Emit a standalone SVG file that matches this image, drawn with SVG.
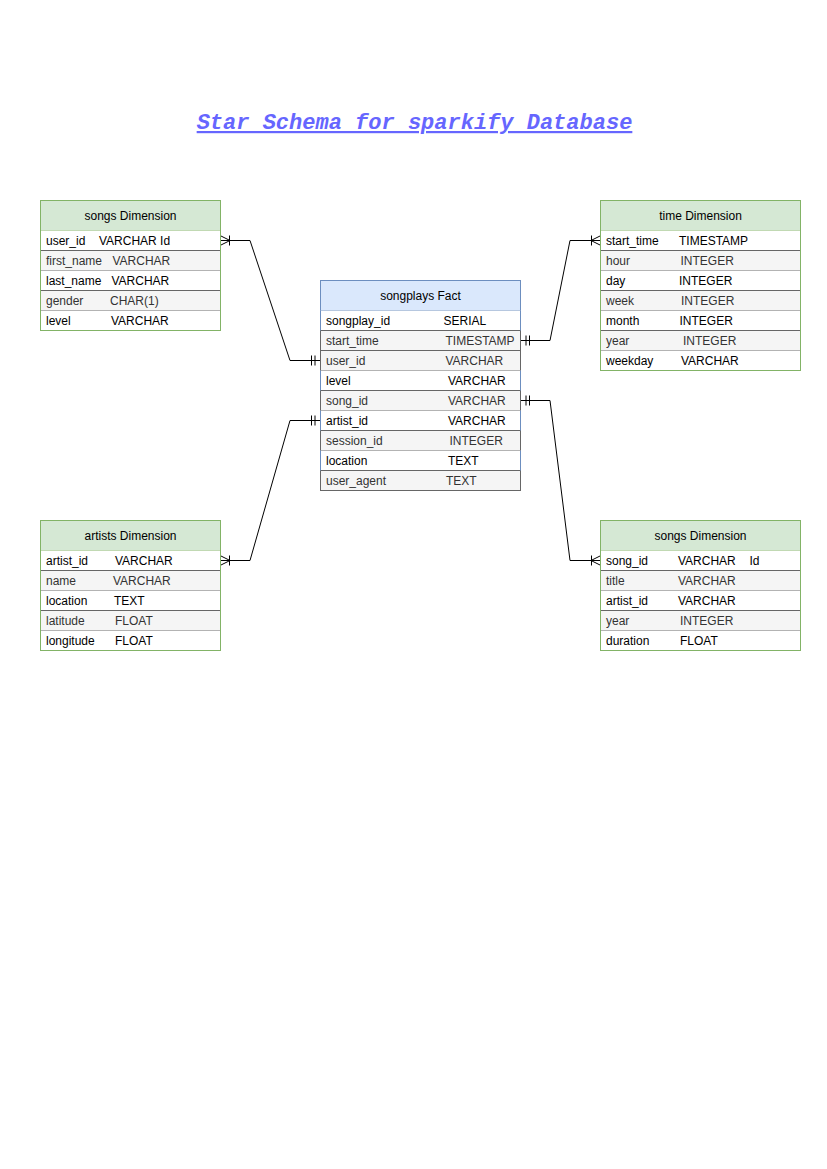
<svg xmlns="http://www.w3.org/2000/svg" width="827" height="1169" viewBox="0 0 827 1169">
<style>
text{font-family:"Liberation Sans",Arial,sans-serif;font-size:12px;fill:#000}
.title{font-family:"Liberation Mono","Courier New",monospace;font-size:22px;font-weight:bold;font-style:italic;fill:#6666FF;text-decoration:underline}
.hd{text-anchor:middle}
.g{fill:#333333}
.dimh{fill:#d5e8d4;stroke:#82b366}
.facth{fill:#dae8fc;stroke:#6c8ebf}
.dimo{fill:none;stroke:#82b366}
.facto{fill:none;stroke:#6c8ebf}
.rw{fill:#ffffff;stroke:none}
.rg{fill:#f5f5f5;stroke:#666666}
.c{fill:none;stroke:#000;stroke-width:1}
</style>
<rect width="827" height="1169" fill="#ffffff"/>
<text class="title" x="414.5" y="129" text-anchor="middle">Star Schema for sparkify Database</text>

<g id="songs-dim-left">
<rect class="dimh" x="40.5" y="200.5" width="180" height="30"/>
<text class="hd" x="130.5" y="220">songs Dimension</text>
<rect class="rw" x="40.5" y="230.5" width="180" height="20"/>
<rect class="rg" x="40.5" y="250.5" width="180" height="20"/>
<rect class="rw" x="40.5" y="270.5" width="180" height="20"/>
<rect class="rg" x="40.5" y="290.5" width="180" height="20"/>
<rect class="rw" x="40.5" y="310.5" width="180" height="20"/>
<rect class="dimo" x="40.5" y="200.5" width="180" height="130"/>
<text x="46" y="245">user_id</text><text x="99" y="245">VARCHAR Id</text>
<text class="g" x="46" y="265">first_name</text><text class="g" x="112.5" y="265">VARCHAR</text>
<text x="46" y="285">last_name</text><text x="111.5" y="285">VARCHAR</text>
<text class="g" x="46" y="305">gender</text><text class="g" x="110" y="305">CHAR(1)</text>
<text x="46" y="325">level</text><text x="111" y="325">VARCHAR</text>
</g>

<g id="songplays-fact">
<rect class="facth" x="320.5" y="280.5" width="200" height="30"/>
<text class="hd" x="420.5" y="300">songplays Fact</text>
<rect class="rw" x="320.5" y="310.5" width="200" height="20"/>
<rect class="rg" x="320.5" y="330.5" width="200" height="20"/>
<rect class="rg" x="320.5" y="350.5" width="200" height="20"/>
<rect class="rw" x="320.5" y="370.5" width="200" height="20"/>
<rect class="rg" x="320.5" y="390.5" width="200" height="20"/>
<rect class="rw" x="320.5" y="410.5" width="200" height="20"/>
<rect class="rg" x="320.5" y="430.5" width="200" height="20"/>
<rect class="rw" x="320.5" y="450.5" width="200" height="20"/>
<rect class="rg" x="320.5" y="470.5" width="200" height="20"/>
<path d="M320.5 310.5V330.5M520.5 310.5V330.5M320.5 370.5V390.5M520.5 370.5V390.5M320.5 410.5V430.5M520.5 410.5V430.5M320.5 450.5V470.5M520.5 450.5V470.5" stroke="#6c8ebf" fill="none"/>
<text x="326" y="325">songplay_id</text><text x="443.5" y="325">SERIAL</text>
<text class="g" x="326" y="345">start_time</text><text class="g" x="445.5" y="345">TIMESTAMP</text>
<text class="g" x="326" y="365">user_id</text><text class="g" x="445.5" y="365">VARCHAR</text>
<text x="326" y="385">level</text><text x="448" y="385">VARCHAR</text>
<text class="g" x="326" y="405">song_id</text><text class="g" x="448" y="405">VARCHAR</text>
<text x="326" y="425">artist_id</text><text x="448" y="425">VARCHAR</text>
<text class="g" x="326" y="445">session_id</text><text class="g" x="449.5" y="445">INTEGER</text>
<text x="326" y="465">location</text><text x="448" y="465">TEXT</text>
<text class="g" x="326" y="485">user_agent</text><text class="g" x="446" y="485">TEXT</text>
</g>

<g id="time-dim">
<rect class="dimh" x="600.5" y="200.5" width="200" height="30"/>
<text class="hd" x="700.5" y="220">time Dimension</text>
<rect class="rw" x="600.5" y="230.5" width="200" height="20"/>
<rect class="rg" x="600.5" y="250.5" width="200" height="20"/>
<rect class="rw" x="600.5" y="270.5" width="200" height="20"/>
<rect class="rg" x="600.5" y="290.5" width="200" height="20"/>
<rect class="rw" x="600.5" y="310.5" width="200" height="20"/>
<rect class="rg" x="600.5" y="330.5" width="200" height="20"/>
<rect class="rw" x="600.5" y="350.5" width="200" height="20"/>
<rect class="dimo" x="600.5" y="200.5" width="200" height="170"/>
<text x="606" y="245">start_time</text><text x="679" y="245">TIMESTAMP</text>
<text class="g" x="606" y="265">hour</text><text class="g" x="680.5" y="265">INTEGER</text>
<text x="606" y="285">day</text><text x="679" y="285">INTEGER</text>
<text class="g" x="606" y="305">week</text><text class="g" x="681" y="305">INTEGER</text>
<text x="606" y="325">month</text><text x="679.5" y="325">INTEGER</text>
<text class="g" x="606" y="345">year</text><text class="g" x="683" y="345">INTEGER</text>
<text x="606" y="365">weekday</text><text x="681" y="365">VARCHAR</text>
</g>

<g id="artists-dim">
<rect class="dimh" x="40.5" y="520.5" width="180" height="30"/>
<text class="hd" x="130.5" y="540">artists Dimension</text>
<rect class="rw" x="40.5" y="550.5" width="180" height="20"/>
<rect class="rg" x="40.5" y="570.5" width="180" height="20"/>
<rect class="rw" x="40.5" y="590.5" width="180" height="20"/>
<rect class="rg" x="40.5" y="610.5" width="180" height="20"/>
<rect class="rw" x="40.5" y="630.5" width="180" height="20"/>
<rect class="dimo" x="40.5" y="520.5" width="180" height="130"/>
<text x="46" y="565">artist_id</text><text x="115" y="565">VARCHAR</text>
<text class="g" x="46" y="585">name</text><text class="g" x="113" y="585">VARCHAR</text>
<text x="46" y="605">location</text><text x="114" y="605">TEXT</text>
<text class="g" x="46" y="625">latitude</text><text class="g" x="115" y="625">FLOAT</text>
<text x="46" y="645">longitude</text><text x="115" y="645">FLOAT</text>
</g>

<g id="songs-dim-right">
<rect class="dimh" x="600.5" y="520.5" width="200" height="30"/>
<text class="hd" x="700.5" y="540">songs Dimension</text>
<rect class="rw" x="600.5" y="550.5" width="200" height="20"/>
<rect class="rg" x="600.5" y="570.5" width="200" height="20"/>
<rect class="rw" x="600.5" y="590.5" width="200" height="20"/>
<rect class="rg" x="600.5" y="610.5" width="200" height="20"/>
<rect class="rw" x="600.5" y="630.5" width="200" height="20"/>
<rect class="dimo" x="600.5" y="520.5" width="200" height="130"/>
<text x="606" y="565">song_id</text><text x="678" y="565">VARCHAR</text><text x="749.5" y="565">Id</text>
<text class="g" x="606" y="585">title</text><text class="g" x="678" y="585">VARCHAR</text>
<text x="606" y="605">artist_id</text><text x="678" y="605">VARCHAR</text>
<text class="g" x="606" y="625">year</text><text class="g" x="680" y="625">INTEGER</text>
<text x="606" y="645">duration</text><text x="680" y="645">FLOAT</text>
</g>

<g id="connectors">
<!-- songs dim user_id to fact user_id -->
<path class="c" d="M221 240.5H250L290 360.5H320"/>
<path class="c" d="M221 236L230 240.5L221 245M229.5 235.5V245.5"/>
<path class="c" d="M311.5 355.5V365.5M315 355.5V365.5"/>
<!-- fact start_time to time start_time -->
<path class="c" d="M521 340.5H550L570 240.5H600"/>
<path class="c" d="M526 335.5V345.5M529.5 335.5V345.5"/>
<path class="c" d="M600 236L591 240.5L600 245M591.5 235.5V245.5"/>
<!-- fact song_id to songs dim song_id -->
<path class="c" d="M521 400.5H550L570 560.5H600"/>
<path class="c" d="M526 395.5V405.5M529.5 395.5V405.5"/>
<path class="c" d="M600 556L591 560.5L600 565M591.5 555.5V565.5"/>
<!-- fact artist_id to artists artist_id -->
<path class="c" d="M320 420.5H290L250 560.5H221"/>
<path class="c" d="M311.5 415.5V425.5M315 415.5V425.5"/>
<path class="c" d="M221 556L230 560.5L221 565M229.5 555.5V565.5"/>
</g>
</svg>
